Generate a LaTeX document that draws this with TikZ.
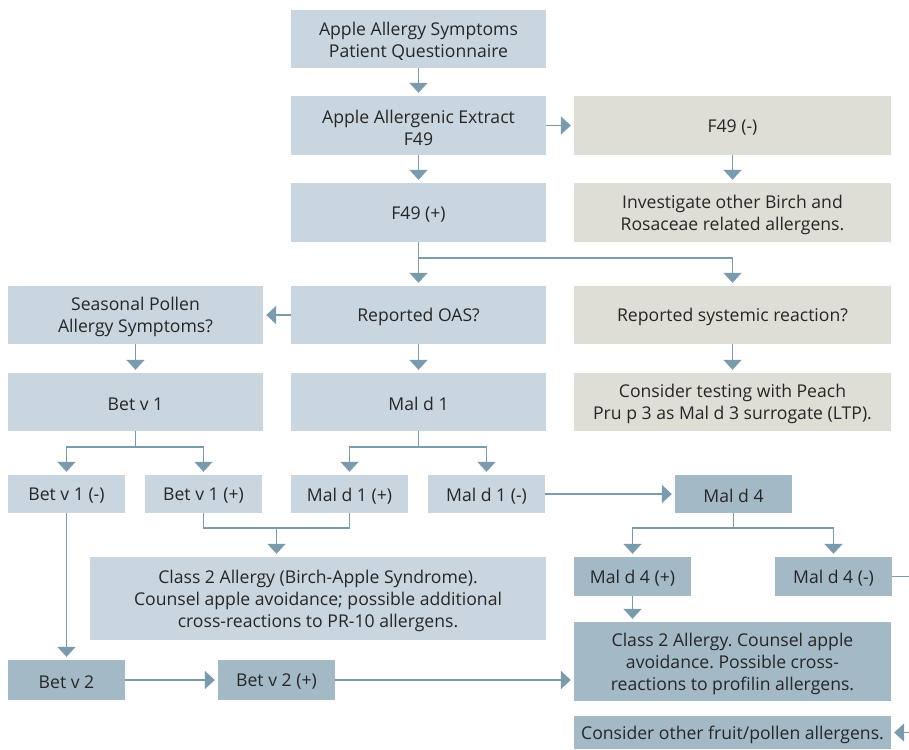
\documentclass[tikz,border=0pt]{standalone}
\usepackage{fontspec}
\setmainfont{Open Sans}
\usetikzlibrary{arrows.meta}
\definecolor{lb}{HTML}{C9D6DF}
\definecolor{bg}{HTML}{DFDED6}
\definecolor{db}{HTML}{A4B9C6}
\definecolor{ac}{HTML}{7B9AAC}
\definecolor{tx}{HTML}{262626}
\tikzset{
  bx/.style={inner sep=0pt},
  txt/.style={inner sep=0pt, align=center, text=tx, font=\fontsize{17.6}{22}\selectfont\frenchspacing},
  lbox/.style={bx, fill=lb},
  gbox/.style={bx, fill=bg},
  dbox/.style={bx, fill=db},
  ln/.style={draw=ac, line width=1.8pt},
  arr/.style={ln, -{Triangle[width=18pt,length=10pt]}, shorten >=3pt},
}
\newcommand{\bxat}[7]{% style, name, x1, y1, x2, y2, text
  \node[#1, minimum width=#5pt-#3pt, minimum height=#6pt-#4pt] (#2) at ({(#3+#5)/2},{(#4+#6)/2}) {};
  \node[txt] (#2t) at ([yshift=-2pt]#2.center) {#7};}
\begin{document}
\begin{tikzpicture}[x=1pt,y=-1pt]
\useasboundingbox[fill=white] (0,0) rectangle (909,749);
\bxat{lbox}{q}{291}{10}{546}{68}{Apple Allergy Symptoms\\Patient Questionnaire}
\bxat{lbox}{ex}{291}{96}{546}{155}{Apple Allergenic Extract\\F49}
\bxat{gbox}{fm}{574}{96}{891}{155}{F49 (-)}
\bxat{lbox}{fp}{291}{183}{546}{242}{F49 (+)}
\bxat{gbox}{inv}{574}{183}{891}{242}{Investigate other Birch and\\Rosaceae related allergens.}
\bxat{lbox}{sea}{8}{286}{263}{344}{Seasonal Pollen\\Allergy Symptoms?}
\bxat{lbox}{oas}{291}{286}{546}{344}{Reported OAS?}
\bxat{gbox}{sys}{574}{286}{891}{344}{Reported systemic reaction?}
\bxat{lbox}{bv}{8}{373}{263}{431}{Bet v 1}
\bxat{lbox}{md}{291}{373}{546}{431}{Mal d 1}
\bxat{gbox}{pru}{574}{373}{891}{431}{Consider testing with Peach\\Pru p 3 as Mal d 3 surrogate (LTP).}
\bxat{lbox}{bvm}{8}{475}{125}{513}{Bet v 1 (-)}
\bxat{lbox}{bvp}{145}{475}{262}{513}{Bet v 1 (+)}
\bxat{lbox}{mdp}{291}{475}{408}{513}{Mal d 1 (+)}
\bxat{lbox}{mdm}{428}{475}{545}{513}{Mal d 1 (-)}
\bxat{dbox}{m4}{675}{475}{792}{513}{Mal d 4}
\bxat{lbox}{c2a}{90}{557}{546}{640}{Class 2 Allergy (Birch-Apple Syndrome).\\Counsel apple avoidance; possible additional\\cross-reactions to PR-10 allergens.}
\bxat{dbox}{m4p}{574}{557}{691}{596}{Mal d 4 (+)}
\bxat{dbox}{m4m}{775}{557}{892}{596}{Mal d 4 (-)}
\bxat{dbox}{c2b}{574}{622}{891}{701}{Class 2 Allergy. Counsel apple\\avoidance. Possible cross-\\reactions to profilin allergens.}
\bxat{dbox}{b2}{8}{660}{125}{700}{Bet v 2}
\bxat{dbox}{b2p}{218}{660}{335}{700}{Bet v 2 (+)}
\bxat{dbox}{oth}{574}{716}{891}{749}{Consider other fruit/pollen allergens.}
% connectors
\draw[arr] (q) -- (ex);
\draw[arr] (ex) -- (fm);
\draw[arr] (ex) -- (fp);
\draw[arr] (fm) -- (inv);
\coordinate (j0) at (418.5,258);
\draw[ln] (fp.south) -- (j0);
\draw[arr] (j0) -- (oas.north);
\draw[arr] (j0) -| (sys.north);
\draw[arr] (oas) -- (sea);
\draw[arr] (sea) -- (bv);
\draw[arr] (oas) -- (md);
\draw[arr] (sys) -- (pru);
\coordinate (j1) at (135.5,447);
\draw[ln] (bv.south) -- (j1);
\draw[arr] (j1) -| (bvm.north);
\draw[arr] (j1) -| (bvp.north);
\coordinate (j2) at (418.5,447);
\draw[ln] (md.south) -- (j2);
\draw[arr] (j2) -| (mdp.north);
\draw[arr] (j2) -| (mdm.north);
\draw[arr] (mdm) -- (m4);
\coordinate (j4) at (733.5,528);
\draw[ln] (m4.south) -- (j4);
\draw[arr] (j4) -| (m4p.north);
\draw[arr] (j4) -| (m4m.north);
\coordinate (j3) at (276.5,528);
\draw[ln] (bvp.south) |- (j3);
\draw[ln] (mdp.south) |- (j3);
\draw[arr] (j3) -- (c2a.north -| j3);
\draw[arr] (bvm) -- (b2);
\draw[arr] (b2) -- (b2p);
\draw[arr] (b2p) -- (c2b.west |- b2p);
\draw[arr] (m4p) -- (c2b.north -| m4p);
\coordinate (e1) at (909,576.5);
\draw[ln] (m4m.east) -- (e1);
\coordinate (e2) at (909,732.5);
\draw[arr] (e2) -- (oth.east);
\end{tikzpicture}
\end{document}
